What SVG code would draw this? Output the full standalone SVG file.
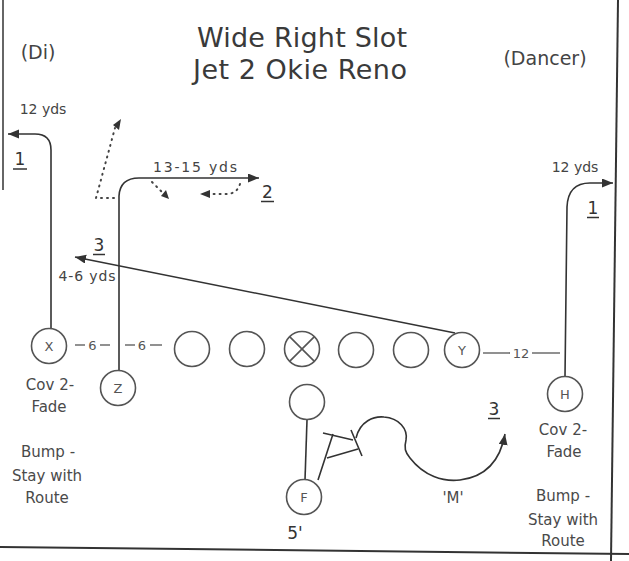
<svg xmlns="http://www.w3.org/2000/svg" width="629" height="561" viewBox="0 0 629 561">
<defs>
<marker id="ah" markerUnits="userSpaceOnUse" markerWidth="12" markerHeight="10" refX="11" refY="4.5" orient="auto"><path d="M0,0 L11,4.5 L0,9 z" fill="#333"/></marker>
<style>
.t{font-family:"DejaVu Sans","Liberation Sans",sans-serif;fill:#444}
.ttl{font-size:27px;text-anchor:middle;fill:#3a3a3a}
.hd{font-size:19px;text-anchor:middle}
.l{font-size:15px;text-anchor:middle;fill:#4a4a4a}
.y{font-size:14px;text-anchor:middle}
.n{font-size:17px;text-anchor:middle;fill:#333}
.c{font-size:13px;text-anchor:middle;fill:#555}
.p{fill:#fff;stroke:#555;stroke-width:1.6}
.r{fill:none;stroke:#333;stroke-width:1.6}
.d{fill:none;stroke:#444;stroke-width:2;stroke-dasharray:1 5;stroke-linecap:round}
.u{stroke:#333;stroke-width:1.5}
.b{stroke:#333;stroke-width:2;fill:none}
.s{stroke:#555;stroke-width:1.3}
</style>
</defs>
<rect width="629" height="561" fill="#fff"/>
<g id="frame">
<line class="b" x1="3" y1="0" x2="3" y2="190" style="stroke-width:1.5"/>
<line class="b" x1="618" y1="0" x2="611" y2="561"/>
<line class="b" x1="0" y1="547" x2="629" y2="554"/>
</g>
<g id="titles">
<text class="t ttl" x="302" y="47" textLength="210">Wide Right Slot</text>
<text class="t ttl" x="300" y="79" textLength="214">Jet 2 Okie Reno</text>
<text class="t hd" x="38" y="59">(Di)</text>
<text class="t hd" x="545" y="65">(Dancer)</text>
</g>
<g id="connectors">
<path class="r" d="M51 328 L51 150 Q51 134 35 134 L8 134" marker-end="url(#ah)"/>
<path class="r" d="M119 371 L119 196 Q120 178 139 178 L259 178" marker-end="url(#ah)"/>
<path class="r" d="M455 333 L75 257" marker-end="url(#ah)"/>
<path class="r" d="M565 377 L567 207 Q568 183 590 183 L613 183" marker-end="url(#ah)"/>
<path class="d" d="M114 198 L96 198 L115 128"/>
<path d="M113 125 L121 119 L119 130 z" fill="#333"/>
<path class="d" d="M152 182 L162 192"/>
<path d="M161 196 L169 199 L166 190 z" fill="#333"/>
<path class="d" d="M240 184 Q237 194 226 194 L210 194"/>
<path d="M210 190 L200 194 L210 198 z" fill="#333"/>
<path class="r" d="M307 420 L305 480"/>
<path class="r" d="M318 480 L333 434 M323 433 L353 440 M327 458 L358 449 M351 430 L362 456"/>
<path class="r" d="M356 438 C360 421 374 416 384 417 C399 418 408 429 406 440 C404 448 405 452 410 458 C424 476 443 482 460 480 C484 477 500 462 505 434" marker-end="url(#ah)"/>
</g>
<g id="spacing">
<line class="s" x1="75" y1="345" x2="85" y2="345"/><text class="t c" x="92.5" y="350">6</text><line class="s" x1="100" y1="345" x2="110" y2="345"/>
<line class="s" x1="125" y1="345" x2="135" y2="345"/><text class="t c" x="142" y="350">6</text><line class="s" x1="150" y1="345" x2="162" y2="345"/>
<line class="s" x1="483" y1="353" x2="510" y2="353"/><text class="t c" x="521" y="358">12</text><line class="s" x1="532" y1="353" x2="560" y2="353"/>
</g>
<g id="labels">
<text class="t y" x="43" y="114">12 yds</text>
<text class="t y" x="195" y="172" textLength="84">13-15 yds</text>
<text class="t y" x="87" y="281" textLength="57">4-6 yds</text>
<text class="t y" x="575" y="172">12 yds</text>
<text class="t n" x="20" y="165">1</text><line class="u" x1="13" y1="169" x2="27" y2="169"/>
<text class="t n" x="267.5" y="198">2</text><line class="u" x1="261" y1="201.5" x2="274" y2="201.5"/>
<text class="t n" x="99" y="251">3</text><line class="u" x1="93" y1="254.5" x2="105" y2="254.5"/>
<text class="t n" x="593" y="214">1</text><line class="u" x1="587" y1="217.5" x2="599" y2="217.5"/>
<text class="t n" x="494" y="415">3</text><line class="u" x1="488" y1="418.5" x2="500" y2="418.5"/>
<text class="t l" x="453" y="503">'M'</text>
<text class="t n" x="295" y="539">5'</text>
<text class="t l" x="50" y="390">Cov 2-</text>
<text class="t l" x="49" y="412">Fade</text>
<text class="t l" x="48" y="457">Bump -</text>
<text class="t l" x="47" y="481">Stay with</text>
<text class="t l" x="47" y="503">Route</text>
<text class="t l" x="563" y="435">Cov 2-</text>
<text class="t l" x="564" y="457">Fade</text>
<text class="t l" x="563" y="501">Bump -</text>
<text class="t l" x="563" y="525">Stay with</text>
<text class="t l" x="563" y="546">Route</text>
</g>
<g id="node-X"><circle class="p" cx="49" cy="346" r="17.5"/><text class="t c" x="49" y="351">X</text></g>
<g id="node-Z"><circle class="p" cx="118" cy="388" r="17.5"/><text class="t c" x="118" y="393">Z</text></g>
<g id="node-LT"><circle class="p" cx="192" cy="349" r="17.5"/></g>
<g id="node-LG"><circle class="p" cx="247" cy="349" r="17.5"/></g>
<g id="node-C"><circle class="p" cx="302" cy="349" r="17.5"/><path class="s" d="M289.6 336.6 L314.4 361.4 M314.4 336.6 L289.6 361.4" style="stroke-width:1.6"/></g>
<g id="node-RG"><circle class="p" cx="356" cy="350" r="17.5"/></g>
<g id="node-RT"><circle class="p" cx="411" cy="350" r="17.5"/></g>
<g id="node-Y"><circle class="p" cx="462" cy="350" r="17.5"/><text class="t c" x="462" y="355">Y</text></g>
<g id="node-H"><circle class="p" cx="565" cy="394" r="17.5"/><text class="t c" x="565" y="399">H</text></g>
<g id="node-QB"><circle class="p" cx="307" cy="402" r="17.5"/></g>
<g id="node-F"><circle class="p" cx="304" cy="497" r="17.5"/><text class="t c" x="304" y="502">F</text></g>
</svg>
